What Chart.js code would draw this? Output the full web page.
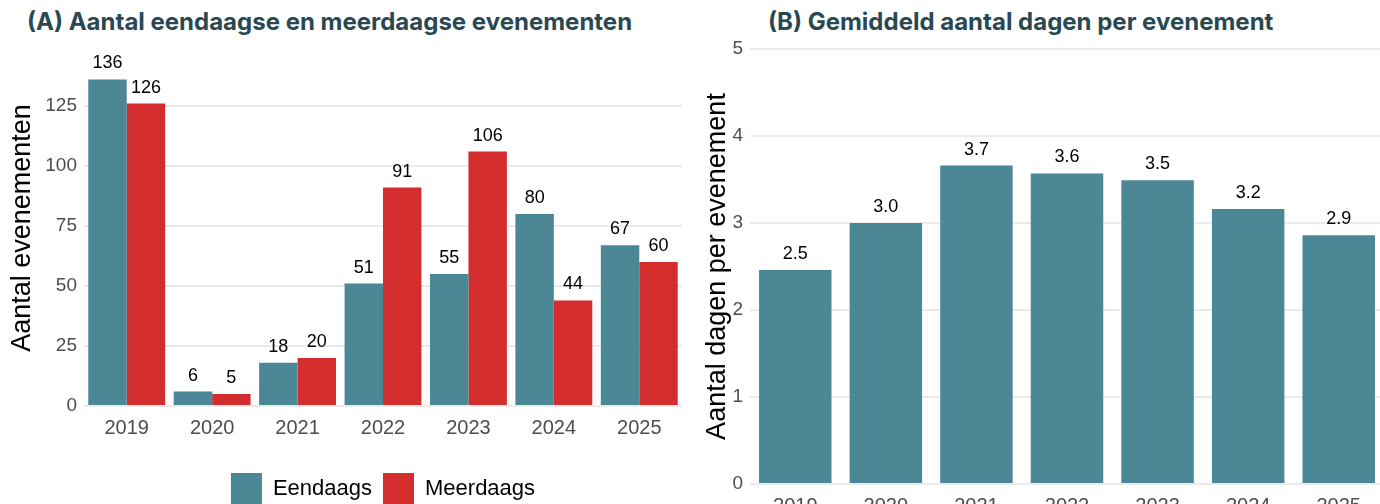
<!DOCTYPE html>
<html lang="nl">
<head>
<meta charset="utf-8">
<title>Evenementen</title>
<script src="https://cdn.jsdelivr.net/npm/chart.js@4.4.1/dist/chart.umd.min.js"></script>
<style>
  html, body { margin: 0; padding: 0; background: #fff; }
  body { width: 1380px; height: 504px; overflow: hidden; position: relative; }
  .titel {
    position: absolute; top: 9px; margin: 0;
    font-family: 'Inter', 'Lato', sans-serif; font-weight: 700; font-size: 24px; line-height: 26px;
    color: #294852; white-space: nowrap;
  }
  #titelA { left: 27px; }
  #titelB { left: 768px; }
  #boxA { position: absolute; left: 0; top: 0; width: 690px; height: 520px; }
  #boxB { position: absolute; left: 690px; top: 0; width: 700px; height: 530px; }
</style>
</head>
<body>
<h2 class="titel" id="titelA">(A) Aantal eendaagse en meerdaagse evenementen</h2>
<h2 class="titel" id="titelB">(B) Gemiddeld aantal dagen per evenement</h2>
<div id="boxA"><canvas id="chartA"></canvas></div>
<div id="boxB"><canvas id="chartB"></canvas></div>
<script>
// Jaren op de x-as
const jaren = ['2019', '2020', '2021', '2022', '2023', '2024', '2025'];

// (A) aantal evenementen per type
const eendaags = [136, 6, 18, 51, 55, 80, 67];
const meerdaags = [126, 5, 20, 91, 106, 44, 60];

// (B) gemiddeld aantal dagen per evenement
const gemDagen = [2.46, 3.00, 3.66, 3.57, 3.49, 3.16, 2.86];

// Tick labels van de y-assen
const ticksA = [0, 25, 50, 75, 100, 125];
const ticksB = [0, 1, 2, 3, 4, 5];

const kleurTeal = '#4b8794';
const kleurRood = '#d32d2d';
const gridKleur = '#ebebeb';
const tickKleur = '#4d4d4d';

Chart.defaults.font.family = "'Liberation Sans', Arial, sans-serif";
Chart.defaults.animation = false;

// Waarden boven de balken tekenen
const waardeLabels = {
    id: 'waardeLabels',
    afterDatasetsDraw(chart, args, opts) {
        const ctx = chart.ctx;
        ctx.save();
        ctx.font = '18px "Liberation Sans", Arial, sans-serif';
        ctx.fillStyle = '#000';
        ctx.textAlign = 'center';
        ctx.textBaseline = 'bottom';
        chart.data.datasets.forEach((ds, i) => {
            chart.getDatasetMeta(i).data.forEach((bar, j) => {
                const tekst = opts.decimals ? ds.data[j].toFixed(opts.decimals) : String(ds.data[j]);
                ctx.fillText(tekst, bar.x, bar.y - 7);
            });
        });
        ctx.restore();
    }
};

const yAs = (ticks, max, breedte, titel, titelPad) => ({
    min: 0,
    max: max,
    border: { display: false },
    grid: { color: gridKleur, lineWidth: 2, drawTicks: false },
    ticks: { stepSize: ticks[1] - ticks[0], padding: 7, color: tickKleur, font: { size: 19 } },
    afterBuildTicks: (scale) => {
        scale.ticks = ticks.map(v => ({ value: v }));
    },
    afterFit: (scale) => { scale.width = breedte; },
    title: {
        display: true,
        text: titel,
        color: '#000',
        font: { size: 27 },
        padding: { top: titelPad, bottom: 0 }
    }
});

// Grafiek A
new Chart(document.getElementById('chartA'), {
    type: 'bar',
    data: {
        labels: jaren,
        datasets: [
            { label: 'Eendaags', data: eendaags, backgroundColor: kleurTeal },
            { label: 'Meerdaags', data: meerdaags, backgroundColor: kleurRood }
        ]
    },
    options: {
        responsive: true,
        maintainAspectRatio: false,
        layout: { padding: { top: 50, left: 0, right: 8, bottom: 6 } },
        datasets: { bar: { categoryPercentage: 0.9, barPercentage: 1.0 } },
        scales: {
            x: {
                border: { display: false },
                grid: { display: false, drawTicks: false },
                ticks: { padding: 10, color: tickKleur, font: { size: 20 } },
                afterFit: (scale) => { scale.height = 56; }
            },
            y: yAs(ticksA, 148.3, 84, 'Aantal evenementen', 6)
        },
        plugins: {
            legend: {
                position: 'bottom',
                fullSize: false,
                labels: {
                    boxWidth: 31,
                    boxHeight: 31,
                    padding: 11,
                    color: '#000',
                    font: { size: 22 }
                }
            },
            tooltip: { enabled: false },
            waardeLabels: { decimals: 0 }
        }
    },
    plugins: [waardeLabels]
});

// Grafiek B
new Chart(document.getElementById('chartB'), {
    type: 'bar',
    data: {
        labels: jaren,
        datasets: [
            { label: 'Gemiddeld aantal dagen', data: gemDagen, backgroundColor: kleurTeal }
        ]
    },
    options: {
        responsive: true,
        maintainAspectRatio: false,
        layout: { padding: { top: 49, left: 0, right: 6, bottom: 0 } },
        datasets: { bar: { categoryPercentage: 1.0, barPercentage: 0.8 } },
        scales: {
            x: {
                border: { display: false },
                grid: { display: false, drawTicks: false },
                ticks: { padding: 10, color: tickKleur, font: { size: 20 } },
                afterFit: (scale) => { scale.height = 46; }
            },
            y: yAs(ticksB, 5, 60, 'Aantal dagen per evenement', 11)
        },
        plugins: {
            legend: { display: false },
            tooltip: { enabled: false },
            waardeLabels: { decimals: 1 }
        }
    },
    plugins: [waardeLabels]
});
</script>
</body>
</html>
